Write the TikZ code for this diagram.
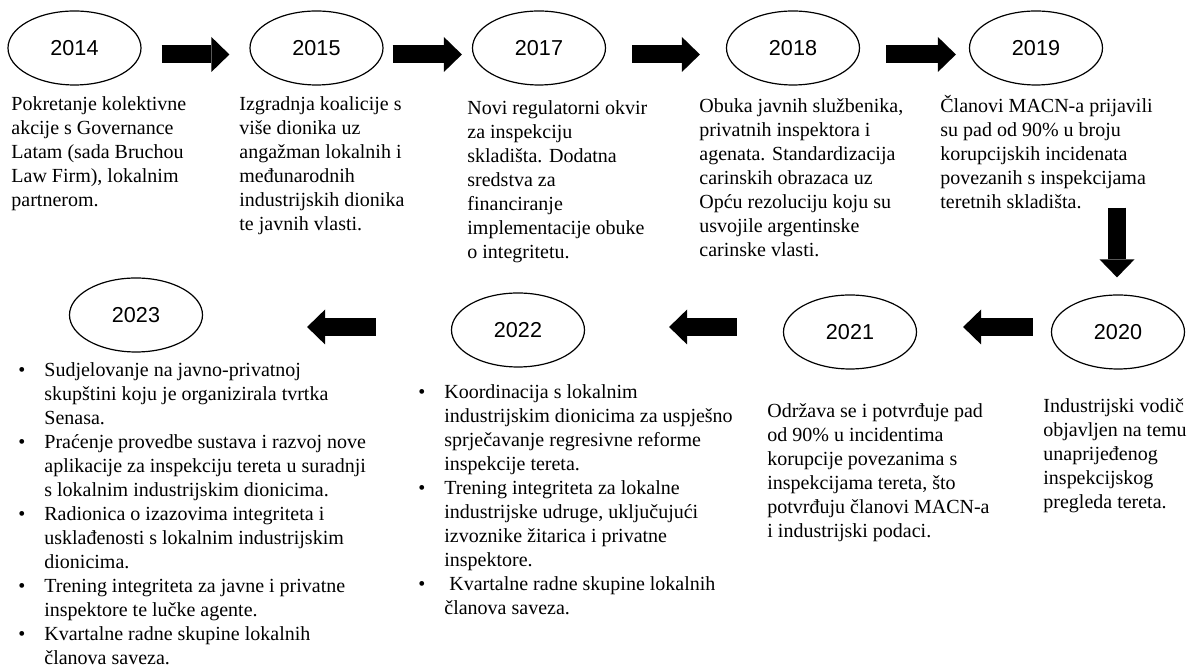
\documentclass[tikz,border=0pt]{standalone}
\usepackage{fontspec}
\setmainfont{Liberation Serif}
\newfontfamily\yearfont{Liberation Sans}
\usetikzlibrary{shapes.geometric,arrows.meta,calc}

\begin{document}
\begin{tikzpicture}[x=0.5pt,y=-0.5pt,
		yearnode/.style={draw,ellipse,line width=0.6pt,minimum width=66.5pt,minimum height=37pt,inner sep=0pt,font=\yearfont\fontsize{10.8}{13}\selectfont},
		blockarrow/.style={line width=9pt,-{Triangle[length=9pt,width=17.5pt,line width=0pt]}},
		desc/.style={anchor=base west,inner sep=0pt,font=\fontsize{10}{12}\selectfont}]
		\useasboundingbox (0,0) rectangle (1195,672);
		\foreach \n/\x/\y in {2014/74.5/48,2015/316.5/48,2017/539/48,2018/793/48,2019/1036/48,2020/1118/332,2021/850/332,2022/518/330,2023/136/315} \node[yearnode] (e\n) at (\x,\y) {\n};
		\foreach \a/\b/\s/\t in {2014/2015/20/20,2015/2017/9/10,2017/2018/26/26,2018/2019/26/13} \draw[blockarrow] ($(e\a.east)+(\s,6.5)$) -- ($(e\b.west)+(-\t,6.5)$);
		\draw[blockarrow] ($(e2019.south)+(81,122)$) -- ($(e2020.north)+(-1,-17)$);
		\draw[blockarrow] ($(e2020.west)+(-18,-5)$) -- ($(e2021.east)+(46,-5)$);
		\draw[blockarrow] ($(e2021.west)+(-46,-5)$) -- ($(e2022.east)+(84,-3)$);
		\draw[blockarrow] ($(e2022.west)+(-75,-3)$) -- ($(e2023.east)+(104,12)$);
		\node[desc] (t2014) at (11,111) {\begin{tabular}[t]{@{}l@{}}Pokretanje kolektivne\\akcije s Governance\\Latam (sada Bruchou\\Law Firm), lokalnim\\partnerom.\end{tabular}};
		\node[desc] (t2015) at (239,111) {\begin{tabular}[t]{@{}l@{}}Izgradnja koalicije s\\više dionika uz\\angažman lokalnih i\\međunarodnih\\industrijskih dionika\\te javnih vlasti.\end{tabular}};
		\node[desc] (t2017) at (467,115) {\begin{tabular}[t]{@{}l@{}}Novi regulatorni okvir\\za inspekciju\\skladišta. Dodatna\\sredstva za\\financiranje\\implementacije obuke\\o integritetu.\end{tabular}};
		\node[desc] (t2018) at (699,113) {\begin{tabular}[t]{@{}l@{}}Obuka javnih službenika,\\privatnih inspektora i\\agenata. Standardizacija\\carinskih obrazaca uz\\Opću rezoluciju koju su\\usvojile argentinske\\carinske vlasti.\end{tabular}};
		\node[desc] (t2019) at (940,113) {\begin{tabular}[t]{@{}l@{}}Članovi MACN-a prijavili\\su pad od 90\% u broju\\korupcijskih incidenata\\povezanih s inspekcijama\\teretnih skladišta.\end{tabular}};
		\node[desc] (t2020) at (1043,413) {\begin{tabular}[t]{@{}l@{}}Industrijski vodič\\objavljen na temu\\unaprijeđenog\\inspekcijskog\\pregleda tereta.\end{tabular}};
		\node[desc] (t2021) at (767,418) {\begin{tabular}[t]{@{}l@{}}Održava se i potvrđuje pad\\od 90\% u incidentima\\korupcije povezanima s\\inspekcijama tereta, što\\potvrđuju članovi MACN-a\\i industrijski podaci.\end{tabular}};
		\node[desc] (t2022) at (418,399) {\begin{tabular}[t]{@{}p{13pt}@{}l@{}}
			\textbullet & Koordinacija s lokalnim\\
			& industrijskim dionicima za uspješno\\
			& sprječavanje regresivne reforme\\
			& inspekcije tereta.\\
			\textbullet & Trening integriteta za lokalne\\
			& industrijske udruge, uključujući\\
			& izvoznike žitarica i privatne\\
			& inspektore.\\
			\textbullet & \ Kvartalne radne skupine lokalnih\\
			& članova saveza.
		\end{tabular}};
		\node[desc] (t2023) at (18,377) {\begin{tabular}[t]{@{}p{13pt}@{}l@{}}
			\textbullet & Sudjelovanje na javno-privatnoj\\
			& skupštini koju je organizirala tvrtka\\
			& Senasa.\\
			\textbullet & Praćenje provedbe sustava i razvoj nove\\
			& aplikacije za inspekciju tereta u suradnji\\
			& s lokalnim industrijskim dionicima.\\
			\textbullet & Radionica o izazovima integriteta i\\
			& usklađenosti s lokalnim industrijskim\\
			& dionicima.\\
			\textbullet & Trening integriteta za javne i privatne\\
			& inspektore te lučke agente.\\
			\textbullet & Kvartalne radne skupine lokalnih\\
			& članova saveza.
		\end{tabular}};
	\end{tikzpicture}
\end{document}
